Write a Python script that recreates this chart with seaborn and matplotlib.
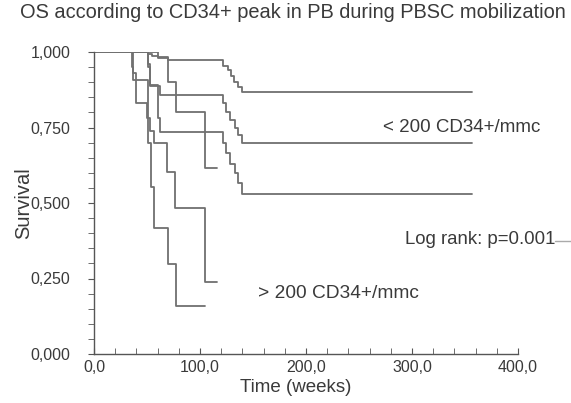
import matplotlib
matplotlib.use("Agg")
import matplotlib.pyplot as plt
import seaborn as sns
import pandas as pd
from matplotlib.ticker import MultipleLocator, FuncFormatter

# Kaplan-Meier step curves (time in weeks, survival)
a_time = [0, 51, 55, 60, 70, 122, 126, 129, 132, 136, 140, 357]
a_surv = [1.0, 0.993, 0.987, 0.981, 0.975, 0.955, 0.94, 0.92, 0.90, 0.885, 0.868, 0.868]

b_time = [0, 51, 53, 62, 122, 125, 128, 133, 136, 140, 357]
b_surv = [1.0, 0.96, 0.887, 0.858, 0.83, 0.80, 0.775, 0.75, 0.725, 0.70, 0.70]

c_time = [0, 51, 53, 60, 62, 122, 125, 128, 133, 136, 140, 357]
c_surv = [1.0, 0.95, 0.89, 0.78, 0.735, 0.70, 0.665, 0.63, 0.60, 0.565, 0.53, 0.53]

d_time = [0, 60, 70, 77, 105, 116]
d_surv = [1.0, 0.985, 0.90, 0.80, 0.616, 0.616]

e_time = [0, 37, 40, 50, 53, 57, 69, 76, 105, 116]
e_surv = [1.0, 0.93, 0.83, 0.78, 0.74, 0.70, 0.603, 0.483, 0.238, 0.238]

f_time = [0, 36, 37, 51, 54, 57, 70, 77, 105]
f_surv = [1.0, 0.95, 0.907, 0.70, 0.553, 0.417, 0.298, 0.159, 0.159]

curves = [(a_time, a_surv), (b_time, b_surv), (c_time, c_surv),
          (d_time, d_surv), (e_time, e_surv), (f_time, f_surv)]

title = "OS according to CD34+ peak in PB during PBSC mobilization"
low_label = "< 200 CD34+/mmc"
high_label = "> 200 CD34+/mmc"
logrank = "Log rank: p=0.001"

sns.set_style("ticks")
plt.rcParams['font.family'] = ['Liberation Sans', 'DejaVu Sans']

fig = plt.figure(figsize=(5.71, 4.03), dpi=100)
ax = fig.add_axes([94/571, 1-354/403, (518-94)/571, (354-52)/403])

line_color = "#707070"
for t, s in curves:
    df = pd.DataFrame({"time": t, "surv": s})
    sns.lineplot(data=df, x="time", y="surv", ax=ax, drawstyle="steps-post",
                 color=line_color, linewidth=1.3, estimator=None, sort=False)

ax.set_xlim(0, 400)
ax.set_ylim(0, 1.0)
ax.xaxis.set_major_locator(MultipleLocator(100))
ax.xaxis.set_minor_locator(MultipleLocator(20))
ax.yaxis.set_major_locator(MultipleLocator(0.25))
ax.yaxis.set_minor_locator(MultipleLocator(0.05))
ax.xaxis.set_major_formatter(FuncFormatter(lambda v, p: f"{v:.1f}".replace(".", ",")))
ax.yaxis.set_major_formatter(FuncFormatter(lambda v, p: f"{v:.3f}".replace(".", ",")))

for side in ["top", "right"]:
    ax.spines[side].set_visible(False)
for side in ["left", "bottom"]:
    ax.spines[side].set_color("#555555")
    ax.spines[side].set_linewidth(1.0)

text_color = "#3a3a3a"
ax.tick_params(axis="both", which="both", colors="#555555", labelcolor=text_color,
               labelsize=11.5)
ax.tick_params(axis="x", which="both", direction="in", length=4, pad=4)
ax.tick_params(axis="y", which="both", direction="out", length=4, pad=13)

ax.set_xlabel("Time (weeks)", fontsize=13.5, color=text_color, va="center")
ax.xaxis.set_label_coords((296-94)/(518-94), -(387-354)/(354-52))
ax.set_ylabel("Survival", fontsize=14.5, color=text_color, va="center")
ax.yaxis.set_label_coords(-(94-24)/(518-94), 0.5)

fig.text(20/571, 1-12/403, title, fontsize=14.4, color=text_color, va="center", ha="left")
fig.text(383/571, 1-128/403, low_label, fontsize=13.5, color=text_color, va="center", ha="left")
fig.text(258/571, 1-293/403, high_label, fontsize=13.8, color=text_color, va="center", ha="left")
fig.text(405/571, 1-240/403, logrank, fontsize=13.4, color=text_color, va="center", ha="left")
fig.add_artist(plt.Line2D([555/571, 571/571], [1-241/403, 1-241/403], color="#aaaaaa", lw=1))

fig.savefig("out.png", dpi=100)
